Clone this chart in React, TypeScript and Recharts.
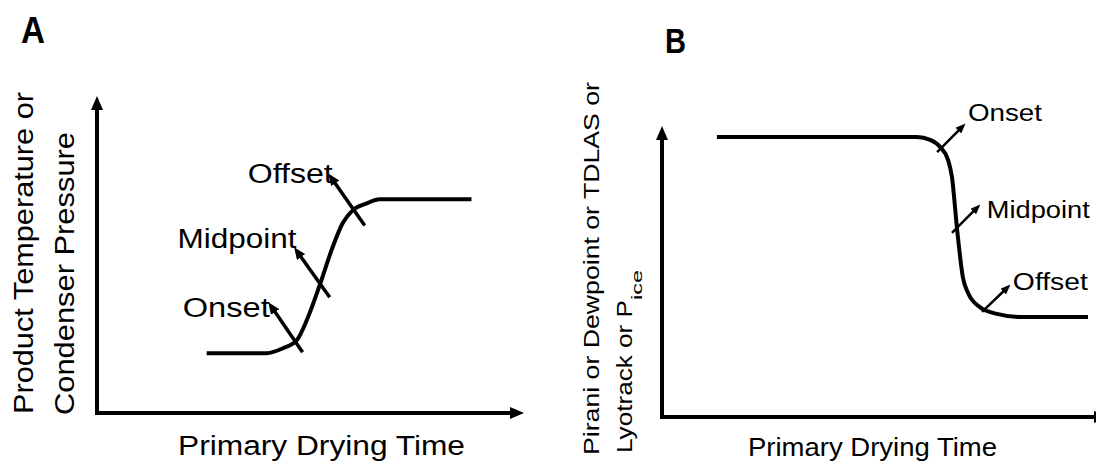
import React from 'react';
import { LineChart, Line, XAxis, YAxis, ReferenceLine, ReferenceDot } from 'recharts';

const FONT = '"Liberation Sans", Arial, Helvetica, sans-serif';

// A: product temperature / condenser pressure climbs at end of primary drying
const timeA = [26.3, 40.7, 44.6, 47.9, 50.3, 53.4, 56.5, 58.9, 61.3, 64.7, 67.8, 89.8];
const signalA = [19.5, 19.5, 21.1, 23.7, 30.2, 41.6, 54.0, 61.8, 66.0, 68.3, 69.6, 69.6];

// B: pirani / dewpoint / TDLAS / lyotrack signal drops
const timeB = [12.6, 58.5, 61.5, 63.8, 65.6, 66.5, 67.7, 69.0, 70.2, 72.9, 76.8, 82.1, 97.7];
const signalB = [99.6, 99.6, 98.6, 96.1, 91.5, 85.4, 66.5, 49.8, 44.1, 39.1, 36.7, 35.6, 35.6];

const events = ['Onset', 'Midpoint', 'Offset'];
const tailA = [[49.3, 19.8], [55.8, 37.7], [64.2, 61.1]];
const tipA = [[41.9, 34.5], [48.1, 52.4], [56.3, 76.4]];
const tailB = [[63.1, 94.3], [66.5, 65.5], [73.4, 37.4]];
const tipB = [[68.8, 103.2], [72.2, 74.4], [79.1, 45.9]];

// text placement next to arrow tips (px)
const nudgeA = [{ dx: -2, dy: 10, w: 87 }, { dx: -1, dy: -4, w: 119 }, { dx: 1, dy: 5, w: 85 }];
const nudgeB = [{ dx: 6, dy: -6, w: 74 }, { dx: 10, dy: 10, w: 103 }, { dx: 6, dy: 2, w: 75 }];

const axisStyle = (id: string, end: 'start' | 'end') => ({
  stroke: '#000',
  strokeWidth: 4,
  strokeLinecap: 'square' as const,
  ...(end === 'start' ? { markerStart: `url(#${id})` } : { markerEnd: `url(#${id})` }),
});

function Arrows({ id, axisW, axisH, evW, evH, evRef }: any) {
  return (
    <defs>
      <marker id={`ax-${id}`} markerUnits="userSpaceOnUse" markerWidth={axisW} markerHeight={axisH}
        viewBox={`0 0 ${axisW} ${axisH}`} refX={4} refY={axisH / 2} orient="auto-start-reverse">
        <path d={`M0,0 L${axisW},${axisH / 2} L0,${axisH} Z`} fill="#000" />
      </marker>
      <marker id={`ev-${id}`} markerUnits="userSpaceOnUse" markerWidth={evW} markerHeight={evH}
        viewBox={`0 0 ${evW} ${evH}`} refX={evRef} refY={evH / 2} orient="auto">
        <path d={`M0,0 L${evW},${evH / 2} L0,${evH} Z`} fill="#000" />
      </marker>
    </defs>
  );
}

function VText({ x, y, len, size, children }: any) {
  return (
    <text x={x} y={y} transform={`rotate(-90 ${x} ${y})`} fontFamily={FONT} fontSize={size}
      textLength={len} lengthAdjust="spacingAndGlyphs" fill="#000">{children}</text>
  );
}

function HText({ x, y, len, size, bold, anchor = 'start', children }: any) {
  return (
    <text x={x} y={y} fontFamily={FONT} fontSize={size} fontWeight={bold ? 'bold' : 'normal'}
      textAnchor={anchor} textLength={len} lengthAdjust="spacingAndGlyphs" fill="#000">{children}</text>
  );
}

export default function App() {
  const rowsA = timeA.map((t, i) => ({ t, v: signalA[i] }));
  const rowsB = timeB.map((t, i) => ({ t, v: signalB[i] }));

  return (
    <div style={{ position: 'absolute', left: 0, top: 0, width: 1096, height: 462, overflow: 'hidden', background: '#fff' }}>
      {/* Panel A */}
      <div style={{ position: 'absolute', left: 0, top: 0 }}>
        <LineChart width={548} height={462} data={rowsA} margin={{ top: 106, right: 34, bottom: 48, left: 96 }}>
          <Arrows id="a" axisW={14} axisH={12} evW={12} evH={10} evRef={6} />
          <XAxis type="number" dataKey="t" domain={[0, 100]} height={1} tick={false} tickLine={false}
            axisLine={axisStyle('ax-a', 'end')} />
          <YAxis type="number" domain={[0, 100]} width={1} tick={false} tickLine={false}
            axisLine={axisStyle('ax-a', 'start')} />
          <Line dataKey="v" type="monotone" stroke="#000" strokeWidth={4} dot={false}
            strokeLinejoin="round" isAnimationActive={false} />
          {events.map((name, i) => (
            <ReferenceLine key={'la' + name} ifOverflow="visible" stroke="#000" strokeWidth={3.5}
              markerEnd="url(#ev-a)"
              segment={[{ x: tailA[i][0], y: tailA[i][1] }, { x: tipA[i][0], y: tipA[i][1] }]} />
          ))}
          {events.map((name, i) => (
            <ReferenceDot key={'ta' + name} x={tipA[i][0]} y={tipA[i][1]} r={0} ifOverflow="visible"
              shape={(p: any) => (
                <HText x={p.cx + nudgeA[i].dx} y={p.cy + nudgeA[i].dy} len={nudgeA[i].w} size={27} anchor="end">{name}</HText>
              )} />
          ))}
          <HText x={21} y={43} len={24} size={36} bold>A</HText>
          <VText x={33} y={414} len={322} size={27}>Product Temperature or</VText>
          <VText x={74} y={415} len={283} size={27}>Condenser Pressure</VText>
          <HText x={178} y={455} len={287} size={27}>Primary Drying Time</HText>
        </LineChart>
      </div>

      {/* Panel B */}
      <div style={{ position: 'absolute', left: 548, top: 0 }}>
        <LineChart width={560} height={462} data={rowsB} margin={{ top: 136, right: 10, bottom: 44, left: 113 }}>
          <Arrows id="b" axisW={14} axisH={12} evW={10} evH={8} evRef={5} />
          <XAxis type="number" dataKey="t" domain={[0, 100]} height={1} tick={false} tickLine={false}
            axisLine={axisStyle('ax-b', 'end')} />
          <YAxis type="number" domain={[0, 100]} width={1} tick={false} tickLine={false}
            axisLine={axisStyle('ax-b', 'start')} />
          <Line dataKey="v" type="monotone" stroke="#000" strokeWidth={4} dot={false}
            strokeLinejoin="round" isAnimationActive={false} />
          {events.map((name, i) => (
            <ReferenceLine key={'lb' + name} ifOverflow="visible" stroke="#000" strokeWidth={2.5}
              markerEnd="url(#ev-b)"
              segment={[{ x: tailB[i][0], y: tailB[i][1] }, { x: tipB[i][0], y: tipB[i][1] }]} />
          ))}
          {events.map((name, i) => (
            <ReferenceDot key={'tb' + name} x={tipB[i][0]} y={tipB[i][1]} r={0} ifOverflow="visible"
              shape={(p: any) => (
                <HText x={p.cx + nudgeB[i].dx} y={p.cy + nudgeB[i].dy} len={nudgeB[i].w} size={23}>{name}</HText>
              )} />
          ))}
          <HText x={117} y={53} len={21} size={35} bold>B</HText>
          <VText x={51} y={455} len={373} size={22}>Pirani or Dewpoint or TDLAS or</VText>
          <text x={84} y={453} transform="rotate(-90 84 453)" fontFamily={FONT} fontSize={22} fill="#000">
            <tspan textLength={153} lengthAdjust="spacingAndGlyphs">Lyotrack or P</tspan>
            <tspan fontSize={14} dy={10} textLength={30} lengthAdjust="spacingAndGlyphs">ice</tspan>
          </text>
          <HText x={200} y={456} len={249} size={26}>Primary Drying Time</HText>
        </LineChart>
      </div>
    </div>
  );
}
